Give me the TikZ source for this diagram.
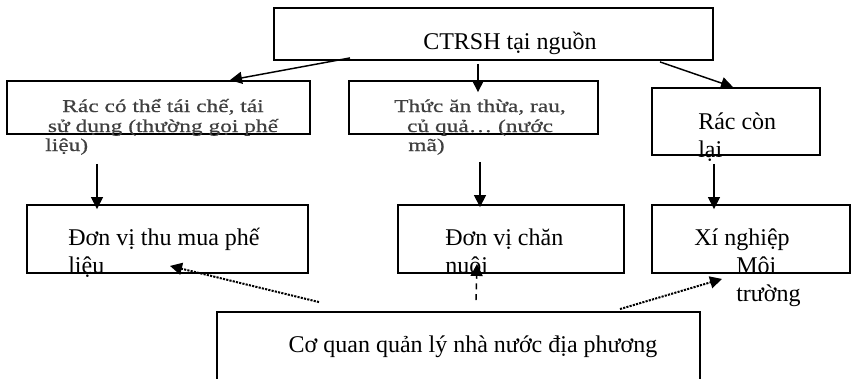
\documentclass[tikz,border=0pt]{standalone}
\usepackage{fontspec}
\setmainfont{Liberation Serif}
\newfontfamily\rowfont[FakeStretch=1.3, FakeBold=0.6]{Liberation Serif}
\usetikzlibrary{arrows.meta, calc}
\tikzset{
  box/.style={
    rectangle,
    draw,
    line width=1.4pt,
    inner sep=0pt
  },
  txt/.style={
    inner sep=0pt,
    align=left,
    font=\fontsize{18pt}{21pt}\selectfont
  },
  smalltxt/.style={
    inner sep=0pt,
    text=black!75,
    font=\rowfont\fontsize{13.5pt}{15pt}\selectfont
  },
  arrow/.style={-{Triangle[length=9pt,width=9pt]}, line width=1.1pt},
  dotarrow/.style={arrow, line width=1.5pt, dash pattern=on 1.6pt off 0.9pt},
  dasharrow/.style={arrow, dash pattern=on 4.5pt off 3.5pt}
}

\begin{document}
\begin{tikzpicture}[x=0.75pt, y=-0.75pt]
  \useasboundingbox (0,0) rectangle (851,379);
  \clip (0,0) rectangle (851,379);

  % boxes
  \node[box, minimum width=329.25pt, minimum height=39pt] (src) at (493.5,34) {};
  \node[box, minimum width=227.25pt, minimum height=39.75pt] (recyc) at (158.5,107.5) {};
  \node[box, minimum width=186.75pt, minimum height=39.75pt] (food) at (473.5,107.5) {};
  \node[box, minimum width=126pt, minimum height=50.25pt] (rest) at (736,121.5) {};
  \node[box, minimum width=210.75pt, minimum height=51pt] (buyer) at (167.5,239) {};
  \node[box, minimum width=169.5pt, minimum height=51pt] (farm) at (511,239) {};
  \node[box, minimum width=148.5pt, minimum height=51pt] (envco) at (751,239) {};
  \node[box, minimum width=362.25pt, minimum height=62.25pt] (gov) at (458.5,353.5) {};

  % texts (base = last line)
  \node[txt, anchor=base west] (srctxt) at (423,49) {CTRSH tại nguồn};
  \node[smalltxt, align=center, anchor=base] (recyctxt) at (163,132) {Rác có thể tái chế, tái\\sử dụng (thường gọi phế};
  \node[smalltxt, anchor=base west] (recyctxtb) at (45,151) {liệu)};
  \node[smalltxt, align=center, anchor=base] (foodtxt) at (480,132) {Thức ăn thừa, rau,\\củ quả… (nước};
  \node[smalltxt, anchor=base west] (foodtxtb) at (408,151) {mã)};
  \node[txt, anchor=base west] (resttxt) at (698,157) {Rác còn\\lại};
  \node[txt, anchor=base west] (buyertxt) at (68,273) {Đơn vị thu mua phế\\liệu};
  \node[txt, anchor=base west] (farmtxt) at (445,273) {Đơn vị chăn\\nuôi};
  \node[txt, anchor=base] (envcotxt) at (742,245) {Xí nghiệp};
  \node[txt, anchor=base west] (envcotxtb) at (736,301) {Môi\\trường};
  \node[txt, anchor=base] (govtxt) at (473,352) {Cơ quan quản lý nhà nước địa phương};

  % connectors
  \draw[arrow] ($(src.south)+(-143.5,-3)$) -- ($(recyc.north)+(71.5,0)$);
  \draw[arrow] ($(src.south)+(-15.5,3)$) -- ($(food.north)+(4.5,12)$);
  \draw[arrow] ($(src.south)+(166.5,1)$) -- ($(rest.north)+(-3,0)$);
  \draw[arrow] ($(recyc.south)+(-61.5,29)$) -- ($(buyer.north)+(-70.5,5)$);
  \draw[arrow] ($(food.south)+(6.5,27)$) -- ($(farm.north)+(-31,3)$);
  \draw[arrow] ($(rest.south)+(-22,8)$) -- ($(envco.north)+(-37,5)$);
  \draw[dotarrow] ($(gov.north)+(-139.5,-9)$) -- ($(buyer.south)+(2.5,-8)$);
  \draw[dasharrow] ($(gov.north)+(17.5,-11)$) -- ($(farm.south)+(-34,-10)$);
  \draw[dotarrow] ($(gov.north)+(161.5,-2)$) -- ($(envco.south)+(-29,5)$);
\end{tikzpicture}
\end{document}
